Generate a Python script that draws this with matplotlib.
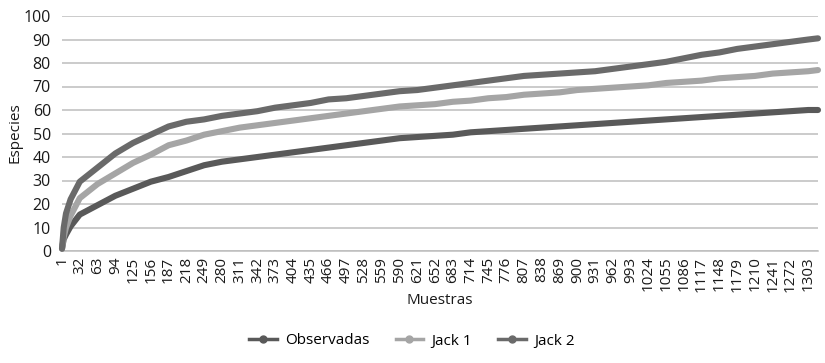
import matplotlib
matplotlib.use("Agg")
import matplotlib.pyplot as plt
from matplotlib.lines import Line2D

plt.rcParams['font.family'] = ['Open Sans', 'DejaVu Sans']

muestras = [1, 4, 8, 16, 32, 63, 94, 125, 156, 187, 218, 249, 280, 311, 342, 373,
            404, 435, 466, 497, 528, 559, 590, 621, 652, 683, 714, 745, 776, 807,
            838, 869, 900, 931, 962, 993, 1024, 1055, 1086, 1117, 1148, 1179,
            1210, 1241, 1272, 1303, 1320]

observadas = [1, 5, 7, 10.5, 15.5, 19.5, 23.5, 26.5, 29.5, 31.5, 34, 36.5, 38, 39,
              40, 41, 42, 43, 44, 45, 46, 47, 48, 48.5, 49, 49.5, 50.5, 51, 51.5,
              52, 52.5, 53, 53.5, 54, 54.5, 55, 55.5, 56, 56.5, 57, 57.5, 58, 58.5,
              59, 59.5, 60, 60]

jack1 = [1, 6, 10, 15, 22.5, 28.5, 33, 37.5, 41, 45, 47, 49.5, 51, 52.5, 53.5,
         54.5, 55.5, 56.5, 57.5, 58.5, 59.5, 60.5, 61.5, 62, 62.5, 63.5, 64, 65,
         65.5, 66.5, 67, 67.5, 68.5, 69, 69.5, 70, 70.5, 71.5, 72, 72.5, 73.5, 74,
         74.5, 75.5, 76, 76.5, 77]

jack2 = [1, 10, 16, 22, 29.5, 35.5, 41.5, 46, 49.5, 53, 55, 56, 57.5, 58.5, 59.5,
         61, 62, 63, 64.5, 65, 66, 67, 68, 68.5, 69.5, 70.5, 71.5, 72.5, 73.5,
         74.5, 75, 75.5, 76, 76.5, 77.5, 78.5, 79.5, 80.5, 82, 83.5, 84.5, 86, 87,
         88, 89, 90, 90.5]

tick_labels = list(range(1, 1304, 31))
yticks = list(range(0, 101, 10))

series = [("Observadas", observadas, "#595959"),
          ("Jack 1", jack1, "#a5a5a5"),
          ("Jack 2", jack2, "#6a6a6a")]

TXT = "#1a1a1a"

fig = plt.figure(figsize=(8.25, 3.63), dpi=100)
ax = fig.add_axes([62/825, 1-251/363, (818-62)/825, (251-16)/363])

for name, vals, col in series:
    ax.plot(muestras, vals, color=col, lw=4.4, solid_capstyle='round',
            solid_joinstyle='round', zorder=3, clip_on=False)

ax.set_xlim(1, 1320)
ax.set_ylim(0, 100)
ax.set_yticks(yticks)
ax.set_xticks(tick_labels)
ax.set_xticklabels([str(t) for t in tick_labels], rotation=90, fontsize=11,
                   color=TXT)
ax.tick_params(axis='y', labelsize=11.5, labelcolor=TXT, length=0, pad=8)
ax.tick_params(axis='x', length=0, pad=4)
ax.grid(axis='y', color="#bdbdbd", lw=1.1, zorder=0)
for s in ['top', 'right', 'left']:
    ax.spines[s].set_visible(False)
ax.spines['bottom'].set_color("#bdbdbd")
ax.spines['bottom'].set_linewidth(1.1)

fig.text(15/825, 1-133/363, "Especies", rotation=90, ha='center', va='center',
         fontsize=11, color=TXT)
fig.text(440/825, 1-300/363, "Muestras", ha='center', va='center',
         fontsize=11, color=TXT)

handles = [Line2D([0], [0], color=col, lw=2.5, marker='o', markersize=5,
                  markerfacecolor=col, markeredgecolor=col)
           for _, _, col in series]
fig.legend(handles, [s[0] for s in series], loc='center',
           bbox_to_anchor=(412/825, 1-341/363), ncol=3, frameon=False,
           fontsize=11, handlelength=1.8, columnspacing=1.7, handletextpad=0.55)

fig.savefig("out.png", dpi=100)
